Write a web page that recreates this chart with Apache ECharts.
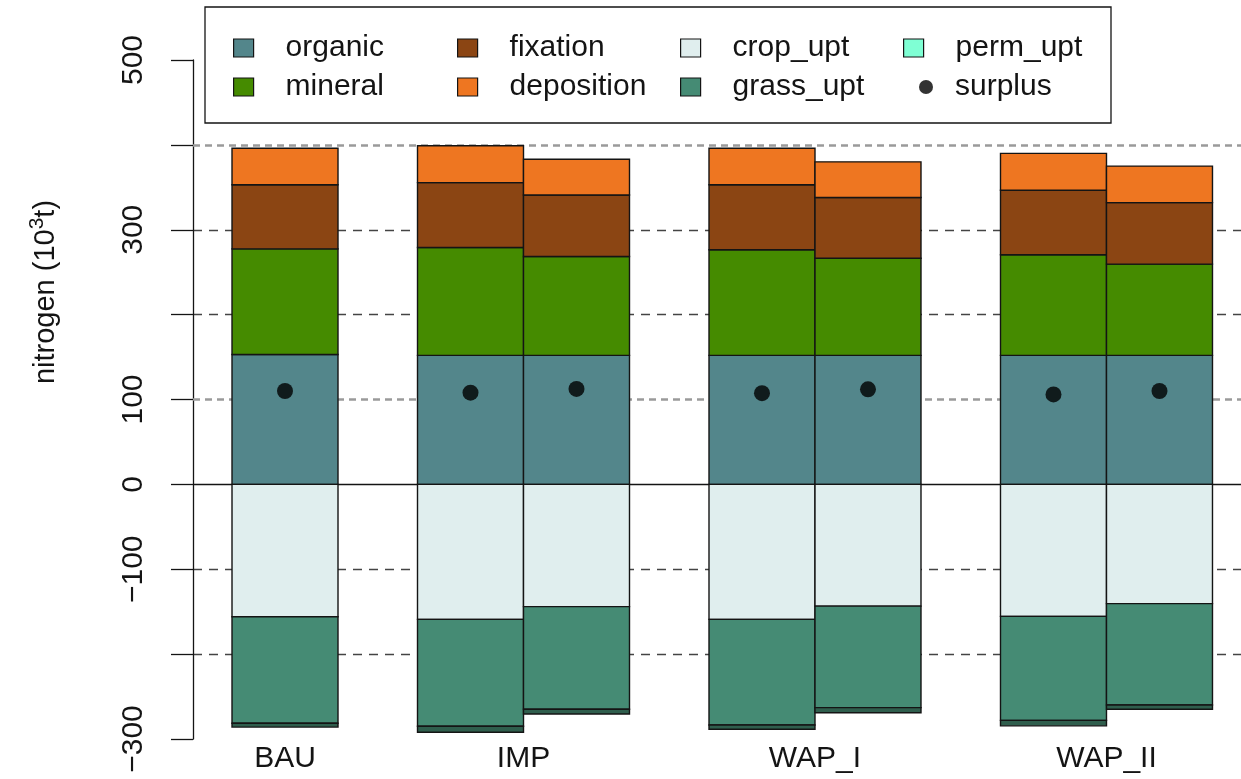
<!DOCTYPE html>
<html>
<head>
<meta charset="utf-8">
<script src="https://cdn.jsdelivr.net/npm/echarts@6/dist/echarts.min.js"></script>
<style>
  html, body { margin: 0; padding: 0; background: #ffffff; }
  #chart { width: 1241px; height: 779px; }
</style>
</head>
<body>
<div id="chart"></div>
<script>
// Scenario groups and where each bar sits on the x scale (bars in a group touch)
const scenarios = ['BAU', 'IMP', 'WAP_I', 'WAP_II'];
const groupCenters = [0, 2.25, 5, 7.75];
const barPositions = [0, 1.75, 2.75, 4.5, 5.5, 7.25, 8.25];

// Nitrogen inputs (positive) and uptakes (negative), 10^3 t
const organic    = [153, 152, 152, 152, 152, 152, 152];
const mineral    = [124.5, 127, 116.5, 124.5, 114.5, 118.5, 107.5];
const fixation   = [75.5, 76.5, 72.5, 76.5, 71.5, 76, 72.5];
const deposition = [43, 43.5, 42, 43, 42, 43.5, 43];
const cropUpt    = [-156, -159, -144, -159, -143.5, -155.5, -140.5];
const grassUpt   = [-125.5, -126, -121, -124.5, -119.5, -122.5, -119.5];
const permUpt    = [-4.5, -7, -5.5, -5, -6, -6.5, -5];
const surplus    = [110, 108, 112.5, 107.5, 112, 106, 110];

// Y axis: ticks every 100, only alternate ones labelled
const yLabelled = [500, 300, 100, 0, -100, -300];

const FONT = '"Liberation Sans", Arial, Helvetica, sans-serif';
const INK = '#141414';

// Build [x, base, top] rows for a stack of components, inputs upward, uptakes downward
function stackRows(components) {
  const running = barPositions.map(() => 0);
  return components.map(values => values.map((v, i) => {
    const base = running[i];
    running[i] = base + v;
    return [barPositions[i], base, running[i]];
  }));
}
const [organicRows, mineralRows, fixationRows, depositionRows] =
  stackRows([organic, mineral, fixation, deposition]);
const [cropRows, grassRows, permRows] = stackRows([cropUpt, grassUpt, permUpt]);

function renderBar(params, api) {
  const x = api.value(0);
  const a = api.coord([x, api.value(1)]);
  const b = api.coord([x, api.value(2)]);
  const w = api.size([1, 0])[0];
  return {
    type: 'rect',
    shape: { x: a[0] - w / 2, y: Math.min(a[1], b[1]), width: w, height: Math.abs(a[1] - b[1]) },
    style: api.style()
  };
}

function barSeries(name, rows, color) {
  return {
    name: name,
    type: 'custom',
    z: 2,
    renderItem: renderBar,
    encode: { x: 0, y: [1, 2] },
    itemStyle: { color: color, borderColor: INK, borderWidth: 1.4 },
    emphasis: { disabled: true },
    data: rows
  };
}

const chart = echarts.init(document.getElementById('chart'), null, { renderer: 'canvas' });

const legendBase = {
  orient: 'vertical',
  icon: 'rect',
  padding: 0,
  itemWidth: 20,
  itemHeight: 18,
  itemGap: 9,
  selectedMode: false,
  top: 33,
  itemStyle: { borderColor: INK, borderWidth: 1.2 },
  textStyle: { fontFamily: FONT, fontSize: 30, color: INK, padding: [0, 0, 0, 27] }
};

chart.setOption({
  animation: false,
  backgroundColor: '#ffffff',
  grid: { left: 193, right: 0, top: 60, bottom: 40 },
  xAxis: {
    type: 'value',
    min: -0.868,
    max: 9.019,
    axisLine: { show: false, onZero: false },
    axisTick: { show: false },
    splitLine: { show: false },
    axisLabel: {
      customValues: groupCenters,
      margin: 5,
      fontFamily: FONT,
      fontSize: 30,
      color: INK,
      formatter: function (v) {
        let best = 0;
        groupCenters.forEach((c, i) => { if (Math.abs(c - v) < Math.abs(groupCenters[best] - v)) best = i; });
        return scenarios[best];
      }
    }
  },
  yAxis: {
    type: 'value',
    min: -300,
    max: 500,
    interval: 100,
    axisLine: { show: true, onZero: false, lineStyle: { color: INK, width: 1.3 } },
    axisTick: { show: true, length: 22, lineStyle: { color: INK, width: 1.3 } },
    axisLabel: {
      rotate: 90,
      margin: 44,
      fontFamily: FONT,
      fontSize: 30,
      color: INK,
      formatter: function (v) {
        if (yLabelled.indexOf(v) < 0) return '';
        return v < 0 ? '\u2212' + Math.abs(v) : String(v);
      }
    },
    splitLine: {
      show: true,
      lineStyle: {
        type: [9, 7],
        width: 1.3,
        color: ['rgba(0,0,0,0)', '#444', '#444', 'rgba(0,0,0,0)', 'rgba(0,0,0,0)',
                '#444', '#444', 'rgba(0,0,0,0)', 'rgba(0,0,0,0)']
      }
    }
  },
  legend: [
    Object.assign({}, legendBase, { left: 233, data: ['organic', 'mineral'] }),
    Object.assign({}, legendBase, { left: 457, data: ['fixation', 'deposition'] }),
    Object.assign({}, legendBase, { left: 680, data: ['crop_upt', 'grass_upt'] }),
    Object.assign({}, legendBase, {
      left: 903,
      data: [{ name: 'perm_upt', itemStyle: { color: '#7FFFD4', borderColor: INK, borderWidth: 1.2 } }]
    }),
    Object.assign({}, legendBase, {
      left: 919, top: 72, icon: 'circle', itemWidth: 14, itemHeight: 14,
      itemStyle: { borderWidth: 0 },
      textStyle: { fontFamily: FONT, fontSize: 30, color: INK, padding: [0, 0, 0, 17] },
      data: ['surplus']
    })
  ],
  graphic: [
    {
      type: 'rect',
      z: 0,
      shape: { x: 205, y: 7, width: 906, height: 116 },
      style: { fill: '#ffffff', stroke: INK, lineWidth: 1.3 }
    },
    {
      type: 'text',
      x: 46,
      y: 292,
      rotation: Math.PI / 2,
      style: {
        text: '{a|nitrogen (10}{s|3}{a|t)}',
        rich: {
          a: { fontFamily: FONT, fontSize: 29, lineHeight: 38, fill: INK, verticalAlign: 'middle' },
          s: { fontFamily: FONT, fontSize: 21, lineHeight: 21, fill: INK, verticalAlign: 'top' }
        },
        align: 'center',
        verticalAlign: 'middle'
      }
    }
  ],
  series: [
    {
      name: 'guides',
      type: 'line',
      data: [],
      silent: true,
      markLine: {
        z: 1,
        silent: true,
        symbol: 'none',
        label: { show: false },
        data: [
          { yAxis: 0, lineStyle: { color: INK, width: 1.3, type: 'solid' } },
          { yAxis: 100, lineStyle: { color: '#9a9a9a', width: 2.5, type: [7, 5] } },
          { yAxis: 400, lineStyle: { color: '#9a9a9a', width: 2.5, type: [7, 5] } }
        ]
      }
    },
    barSeries('organic', organicRows, '#53868B'),
    barSeries('mineral', mineralRows, '#458B00'),
    barSeries('fixation', fixationRows, '#8B4513'),
    barSeries('deposition', depositionRows, '#EE7621'),
    barSeries('crop_upt', cropRows, '#E0EEEE'),
    barSeries('grass_upt', grassRows, '#458B74'),
    barSeries('perm_upt', permRows, '#2f5e4d'),
    {
      name: 'surplus',
      type: 'scatter',
      z: 4,
      symbol: 'circle',
      symbolSize: 16,
      itemStyle: { color: '#000000' },
      emphasis: { disabled: true },
      data: surplus.map((v, i) => [barPositions[i], v])
    }
  ]
});
</script>
</body>
</html>
